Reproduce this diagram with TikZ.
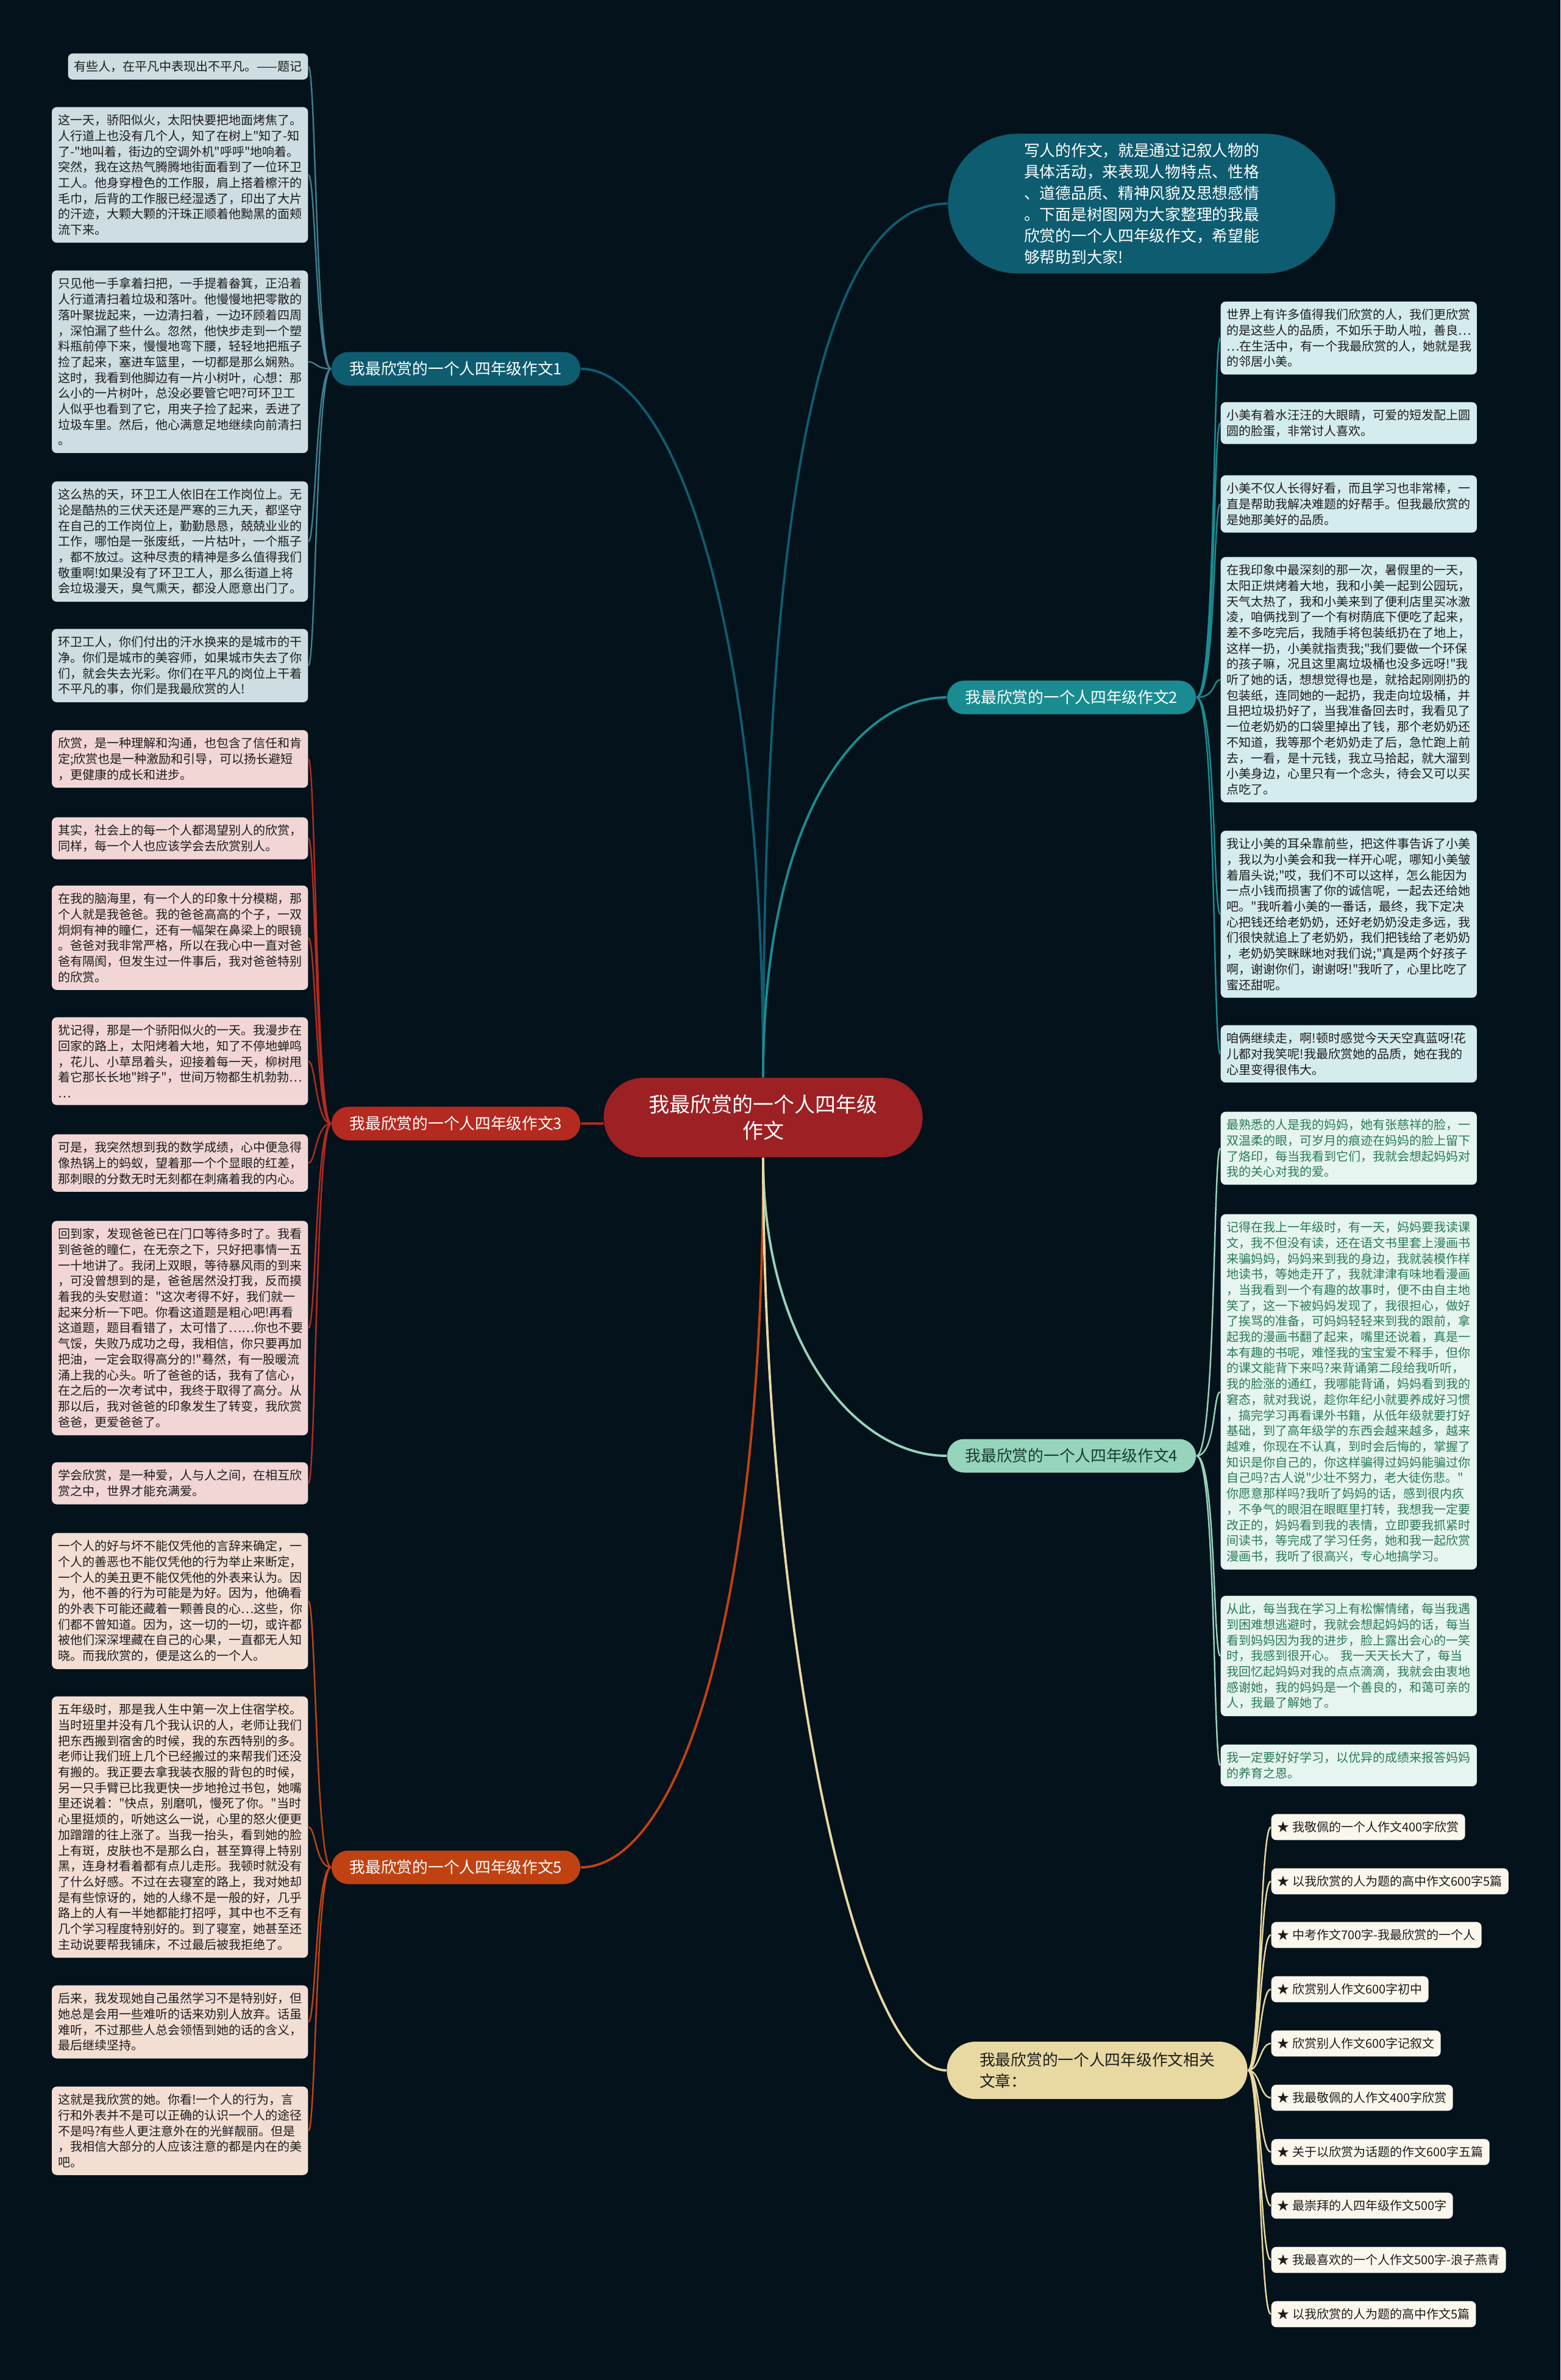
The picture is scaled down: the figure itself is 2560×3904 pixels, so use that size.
\documentclass[tikz,border=0pt]{standalone}
\usepackage{fontspec}
\newfontfamily\cjkfont{Noto Sans CJK SC}
\usetikzlibrary{calc}
\definecolor{bgNavy}{RGB}{3,18,27}
\definecolor{tealDeep}{RGB}{14,92,112}
\definecolor{tealMid}{RGB}{26,140,145}
\definecolor{hubRed}{RGB}{156,32,36}
\definecolor{redOne}{RGB}{180,42,32}
\definecolor{mintOne}{RGB}{150,212,188}
\definecolor{orangeOne}{RGB}{192,66,18}
\definecolor{creamOne}{RGB}{232,216,162}
\definecolor{fillOne}{RGB}{205,221,226}
\definecolor{fillTwo}{RGB}{212,236,238}
\definecolor{fillThree}{RGB}{242,214,214}
\definecolor{fillFour}{RGB}{230,245,239}
\definecolor{fillFive}{RGB}{243,222,212}
\definecolor{fillSix}{RGB}{251,247,236}
\definecolor{inkDark}{RGB}{28,28,28}
\definecolor{inkGreen}{RGB}{40,122,88}
\definecolor{inkMint}{RGB}{24,60,50}
\tikzset{
  hub/.style={fill=hubRed, text=white, align=center,
              font=\cjkfont\fontsize{9.67pt}{12.2pt}\selectfont,
              minimum width=5.23cm, minimum height=1.30cm, rounded corners=0.65cm},
  intro/.style={fill=tealDeep, text=white, align=left,
                font=\cjkfont\fontsize{7.31pt}{9.96pt}\selectfont,
                minimum width=6.35cm, minimum height=2.29cm, rounded corners=1.14cm},
  branch/.style={font=\cjkfont\fontsize{7.31pt}{9.96pt}\selectfont, text=white, inner sep=0pt,
                 minimum width=4.08cm, minimum height=0.55cm, rounded corners=0.275cm},
  related/.style={font=\cjkfont\fontsize{7.31pt}{9.96pt}\selectfont, fill=creamOne, text=inkDark,
                  align=left, inner sep=0pt,
                  minimum width=4.93cm, minimum height=0.94cm, rounded corners=0.47cm},
  leaf/.style={font=\cjkfont\fontsize{5.69pt}{7.31pt}\selectfont, align=left, text=inkDark,
               rounded corners=0.08cm, inner xsep=0.1cm, inner ysep=0.12cm},
  leafL/.style={leaf, text width=4.0cm, anchor=north east},
  leafR/.style={leaf, text width=4.0cm, anchor=north west},
  item/.style={leaf, fill=fillSix, anchor=west},
  spoke/.style={line width=1.1pt},
  wire/.style={line width=0.7pt},
  tieL/.style={to path={.. controls ([xshift=-0.25cm]\tikztostart)
                        and ([xshift=0.12cm]\tikztotarget) .. (\tikztotarget)}},
  tieR/.style={to path={.. controls ([xshift=0.32cm]\tikztostart)
                        and ([xshift=-0.12cm]\tikztotarget) .. (\tikztotarget)}},
  tieRel/.style={to path={.. controls ([xshift=0.2cm]\tikztostart)
                          and ([xshift=-0.18cm]\tikztotarget) .. (\tikztotarget)}},
}
\begin{document}
\begin{tikzpicture}[x=0.01cm, y=-0.01cm]
  % canvas
  \useasboundingbox (0,0) rectangle (2560,3904);
  \fill[bgNavy] (0,0) rectangle (2560,3904);

  % centre and intro
  \node[hub] (hub) at (1252,1833) {我最欣赏的一个人四年级\\作文};
  \node[intro] (intro) at (1873,334) {写人的作文，就是通过记叙人物的\\具体活动，来表现人物特点、性格\\、道德品质、精神风貌及思想感情\\。下面是树图网为大家整理的我最\\欣赏的一个人四年级作文，希望能\\够帮助到大家!};

  % branches
  \node[branch, fill=tealDeep] (b1) at (748,605) {我最欣赏的一个人四年级作文1};
  \node[branch, fill=tealMid] (b2) at (1758,1144) {我最欣赏的一个人四年级作文2};
  \node[branch, fill=redOne] (b3) at (748,1843) {我最欣赏的一个人四年级作文3};
  \node[branch, fill=mintOne, text=inkMint] (b4) at (1758,2388) {我最欣赏的一个人四年级作文4};
  \node[branch, fill=orangeOne] (b5) at (748,3063) {我最欣赏的一个人四年级作文5};
  \node[related] (b6) at (1800,3396) {我最欣赏的一个人四年级作文相关\\文章：};

  % essay 1
  \node[leaf, anchor=north east, fill=fillOne] (l1a) at (506,87) {有些人，在平凡中表现出不平凡。——题记};
  \node[leafL, fill=fillOne] (l1b) at (506,175) {这一天，骄阳似火，太阳快要把地面烤焦了。\\人行道上也没有几个人，知了在树上"知了-知\\了-"地叫着，街边的空调外机"呼呼"地响着。\\突然，我在这热气腾腾地街面看到了一位环卫\\工人。他身穿橙色的工作服，肩上搭着檫汗的\\毛巾，后背的工作服已经湿透了，印出了大片\\的汗迹，大颗大颗的汗珠正顺着他黝黑的面颊\\流下来。};
  \node[leafL, fill=fillOne] (l1c) at (506,443) {只见他一手拿着扫把，一手提着畚箕，正沿着\\人行道清扫着垃圾和落叶。他慢慢地把零散的\\落叶聚拢起来，一边清扫着，一边环顾着四周\\，深怕漏了些什么。忽然，他快步走到一个塑\\料瓶前停下来，慢慢地弯下腰，轻轻地把瓶子\\捡了起来，塞进车篮里，一切都是那么娴熟。\\这时，我看到他脚边有一片小树叶，心想：那\\么小的一片树叶，总没必要管它吧?可环卫工\\人似乎也看到了它，用夹子捡了起来，丢进了\\垃圾车里。然后，他心满意足地继续向前清扫\\。};
  \node[leafL, fill=fillOne] (l1d) at (506,789) {这么热的天，环卫工人依旧在工作岗位上。无\\论是酷热的三伏天还是严寒的三九天，都坚守\\在自己的工作岗位上，勤勤恳恳，兢兢业业的\\工作，哪怕是一张废纸，一片枯叶，一个瓶子\\，都不放过。这种尽责的精神是多么值得我们\\敬重啊!如果没有了环卫工人，那么街道上将\\会垃圾漫天，臭气熏天，都没人愿意出门了。};
  \node[leafL, fill=fillOne] (l1e) at (506,1031) {环卫工人，你们付出的汗水换来的是城市的干\\净。你们是城市的美容师，如果城市失去了你\\们，就会失去光彩。你们在平凡的岗位上干着\\不平凡的事，你们是我最欣赏的人!};

  % essay 3
  \node[leafL, fill=fillThree] (l3a) at (506,1197) {欣赏，是一种理解和沟通，也包含了信任和肯\\定;欣赏也是一种激励和引导，可以扬长避短\\，更健康的成长和进步。};
  \node[leafL, fill=fillThree] (l3b) at (506,1340) {其实，社会上的每一个人都渴望别人的欣赏，\\同样，每一个人也应该学会去欣赏别人。};
  \node[leafL, fill=fillThree] (l3c) at (506,1452) {在我的脑海里，有一个人的印象十分模糊，那\\个人就是我爸爸。我的爸爸高高的个子，一双\\炯炯有神的瞳仁，还有一幅架在鼻梁上的眼镜\\。爸爸对我非常严格，所以在我心中一直对爸\\爸有隔阂，但发生过一件事后，我对爸爸特别\\的欣赏。};
  \node[leafL, fill=fillThree] (l3d) at (506,1668) {犹记得，那是一个骄阳似火的一天。我漫步在\\回家的路上，太阳烤着大地，知了不停地蝉鸣\\，花儿、小草昂着头，迎接着每一天，柳树甩\\着它那长长地"辫子"，世间万物都生机勃勃…\\…};
  \node[leafL, fill=fillThree] (l3e) at (506,1860) {可是，我突然想到我的数学成绩，心中便急得\\像热锅上的蚂蚁，望着那一个个显眼的红差，\\那刺眼的分数无时无刻都在刺痛着我的内心。};
  \node[leafL, fill=fillThree] (l3f) at (506,2002) {回到家，发现爸爸已在门口等待多时了。我看\\到爸爸的瞳仁，在无奈之下，只好把事情一五\\一十地讲了。我闭上双眼，等待暴风雨的到来\\，可没曾想到的是，爸爸居然没打我，反而摸\\着我的头安慰道："这次考得不好，我们就一\\起来分析一下吧。你看这道题是粗心吧!再看\\这道题，题目看错了，太可惜了……你也不要\\气馁，失败乃成功之母，我相信，你只要再加\\把油，一定会取得高分的!"蓦然，有一股暖流\\涌上我的心头。听了爸爸的话，我有了信心，\\在之后的一次考试中，我终于取得了高分。从\\那以后，我对爸爸的印象发生了转变，我欣赏\\爸爸，更爱爸爸了。};
  \node[leafL, fill=fillThree] (l3g) at (506,2398) {学会欣赏，是一种爱，人与人之间，在相互欣\\赏之中，世界才能充满爱。};

  % essay 5
  \node[leafL, fill=fillFive] (l5a) at (506,2514) {一个人的好与坏不能仅凭他的言辞来确定，一\\个人的善恶也不能仅凭他的行为举止来断定，\\一个人的美丑更不能仅凭他的外表来认为。因\\为，他不善的行为可能是为好。因为，他确看\\的外表下可能还藏着一颗善良的心…这些，你\\们都不曾知道。因为，这一切的一切，或许都\\被他们深深埋藏在自己的心果，一直都无人知\\晓。而我欣赏的，便是这么的一个人。};
  \node[leafL, fill=fillFive] (l5b) at (506,2782) {五年级时，那是我人生中第一次上住宿学校。\\当时班里并没有几个我认识的人，老师让我们\\把东西搬到宿舍的时候，我的东西特别的多。\\老师让我们班上几个已经搬过的来帮我们还没\\有搬的。我正要去拿我装衣服的背包的时候，\\另一只手臂已比我更快一步地抢过书包，她嘴\\里还说着："快点，别磨叽，慢死了你。"当时\\心里挺烦的，听她这么一说，心里的怒火便更\\加蹭蹭的往上涨了。当我一抬头，看到她的脸\\上有斑，皮肤也不是那么白，甚至算得上特别\\黑，连身材看着都有点儿走形。我顿时就没有\\了什么好感。不过在去寝室的路上，我对她却\\是有些惊讶的，她的人缘不是一般的好，几乎\\路上的人有一半她都能打招呼，其中也不乏有\\几个学习程度特别好的。到了寝室，她甚至还\\主动说要帮我铺床，不过最后被我拒绝了。};
  \node[leafL, fill=fillFive] (l5c) at (506,3256) {后来，我发现她自己虽然学习不是特别好，但\\她总是会用一些难听的话来劝别人放弃。话虽\\难听，不过那些人总会领悟到她的话的含义，\\最后继续坚持。};
  \node[leafL, fill=fillFive] (l5d) at (506,3422) {这就是我欣赏的她。你看!一个人的行为，言\\行和外表并不是可以正确的认识一个人的途径\\不是吗?有些人更注意外在的光鲜靓丽。但是\\，我相信大部分的人应该注意的都是内在的美\\吧。};

  % essay 2
  \node[leafR, fill=fillTwo] (r2a) at (2002,494) {世界上有许多值得我们欣赏的人，我们更欣赏\\的是这些人的品质，不如乐于助人啦，善良…\\…在生活中，有一个我最欣赏的人，她就是我\\的邻居小美。};
  \node[leafR, fill=fillTwo] (r2b) at (2002,659) {小美有着水汪汪的大眼睛，可爱的短发配上圆\\圆的脸蛋，非常讨人喜欢。};
  \node[leafR, fill=fillTwo] (r2c) at (2002,779) {小美不仅人长得好看，而且学习也非常棒，一\\直是帮助我解决难题的好帮手。但我最欣赏的\\是她那美好的品质。};
  \node[leafR, fill=fillTwo] (r2d) at (2002,913) {在我印象中最深刻的那一次，暑假里的一天，\\太阳正烘烤着大地，我和小美一起到公园玩，\\天气太热了，我和小美来到了便利店里买冰激\\凌，咱俩找到了一个有树荫底下便吃了起来，\\差不多吃完后，我随手将包装纸扔在了地上，\\这样一扔，小美就指责我;"我们要做一个环保\\的孩子嘛，况且这里离垃圾桶也没多远呀!"我\\听了她的话，想想觉得也是，就拾起刚刚扔的\\包装纸，连同她的一起扔，我走向垃圾桶，并\\且把垃圾扔好了，当我准备回去时，我看见了\\一位老奶奶的口袋里掉出了钱，那个老奶奶还\\不知道，我等那个老奶奶走了后，急忙跑上前\\去，一看，是十元钱，我立马拾起，就大溜到\\小美身边，心里只有一个念头，待会又可以买\\点吃了。};
  \node[leafR, fill=fillTwo] (r2e) at (2002,1362) {我让小美的耳朵靠前些，把这件事告诉了小美\\，我以为小美会和我一样开心呢，哪知小美皱\\着眉头说;"哎，我们不可以这样，怎么能因为\\一点小钱而损害了你的诚信呢，一起去还给她\\吧。"我听着小美的一番话，最终，我下定决\\心把钱还给老奶奶，还好老奶奶没走多远，我\\们很快就追上了老奶奶，我们把钱给了老奶奶\\，老奶奶笑眯眯地对我们说;"真是两个好孩子\\啊，谢谢你们，谢谢呀!"我听了，心里比吃了\\蜜还甜呢。};
  \node[leafR, fill=fillTwo] (r2f) at (2002,1681) {咱俩继续走，啊!顿时感觉今天天空真蓝呀!花\\儿都对我笑呢!我最欣赏她的品质，她在我的\\心里变得很伟大。};

  % essay 4
  \node[leafR, fill=fillFour, text=inkGreen] (r4a) at (2002,1823) {最熟悉的人是我的妈妈，她有张慈祥的脸，一\\双温柔的眼，可岁月的痕迹在妈妈的脸上留下\\了烙印，每当我看到它们，我就会想起妈妈对\\我的关心对我的爱。};
  \node[leafR, fill=fillFour, text=inkGreen] (r4b) at (2002,1991) {记得在我上一年级时，有一天，妈妈要我读课\\文，我不但没有读，还在语文书里套上漫画书\\来骗妈妈，妈妈来到我的身边，我就装模作样\\地读书，等她走开了，我就津津有味地看漫画\\，当我看到一个有趣的故事时，便不由自主地\\笑了，这一下被妈妈发现了，我很担心，做好\\了挨骂的准备，可妈妈轻轻来到我的跟前，拿\\起我的漫画书翻了起来，嘴里还说着，真是一\\本有趣的书呢，难怪我的宝宝爱不释手，但你\\的课文能背下来吗?来背诵第二段给我听听，\\我的脸涨的通红，我哪能背诵，妈妈看到我的\\窘态，就对我说，趁你年纪小就要养成好习惯\\，搞完学习再看课外书籍，从低年级就要打好\\基础，到了高年级学的东西会越来越多，越来\\越难，你现在不认真，到时会后悔的，掌握了\\知识是你自己的，你这样骗得过妈妈能骗过你\\自己吗?古人说"少壮不努力，老大徒伤悲。"\\你愿意那样吗?我听了妈妈的话，感到很内疚\\，不争气的眼泪在眼眶里打转，我想我一定要\\改正的，妈妈看到我的表情，立即要我抓紧时\\间读书，等完成了学习任务，她和我一起欣赏\\漫画书，我听了很高兴，专心地搞学习。};
  \node[leafR, fill=fillFour, text=inkGreen] (r4c) at (2002,2617) {从此，每当我在学习上有松懈情绪，每当我遇\\到困难想逃避时，我就会想起妈妈的话，每当\\看到妈妈因为我的进步，脸上露出会心的一笑\\时，我感到很开心。 我一天天长大了，每当\\我回忆起妈妈对我的点点滴滴，我就会由衷地\\感谢她，我的妈妈是一个善良的，和蔼可亲的\\人，我最了解她了。};
  \node[leafR, fill=fillFour, text=inkGreen] (r4d) at (2002,2861) {我一定要好好学习，以优异的成绩来报答妈妈\\的养育之恩。};

  % related articles
  \node[item] (r6a) at (2085,2997) {★ 我敬佩的一个人作文400字欣赏};
  \node[item] (r6b) at (2085,3086) {★ 以我欣赏的人为题的高中作文600字5篇};
  \node[item] (r6c) at (2085,3174) {★ 中考作文700字-我最欣赏的一个人};
  \node[item] (r6d) at (2085,3263) {★ 欣赏别人作文600字初中};
  \node[item] (r6e) at (2085,3352) {★ 欣赏别人作文600字记叙文};
  \node[item] (r6f) at (2085,3441) {★ 我最敬佩的人作文400字欣赏};
  \node[item] (r6g) at (2085,3530) {★ 关于以欣赏为话题的作文600字五篇};
  \node[item] (r6h) at (2085,3618) {★ 最崇拜的人四年级作文500字};
  \node[item] (r6i) at (2085,3707) {★ 我最喜欢的一个人作文500字-浪子燕青};
  \node[item] (r6j) at (2085,3796) {★ 以我欣赏的人为题的高中作文5篇};

  % spokes from the centre
  \draw[spoke, tealDeep] (hub.north) .. controls (1252,900) and (1330,334) .. (intro.west);
  \draw[spoke, tealDeep] (hub.north) .. controls (1252,1000) and (1100,605) .. (b1.east);
  \draw[spoke, tealMid] (hub.north) .. controls (1252,1350) and (1400,1144) .. (b2.west);
  \draw[spoke, redOne] (b3.east) -- (b3.east -| hub.west);
  \draw[spoke, mintOne] (hub.south) .. controls (1252,2200) and (1400,2388) .. (b4.west);
  \draw[spoke, orangeOne] (hub.south) .. controls (1252,2700) and (1100,3063) .. (b5.east);
  \draw[spoke, creamOne] (hub.south) .. controls (1252,2650) and (1400,3396) .. (b6.west);

  % wires to the leaves
  \draw[wire, tealDeep!80!white, tieL] (b1.west) to (l1a.east) (b1.west) to (l1b.east)
    (b1.west) to (l1c.east) (b1.west) to (l1d.east) (b1.west) to (l1e.east);
  \draw[wire, redOne, tieL] (b3.west) to (l3a.east) (b3.west) to (l3b.east)
    (b3.west) to (l3c.east) (b3.west) to (l3d.east) (b3.west) to (l3e.east)
    (b3.west) to (l3f.east) (b3.west) to (l3g.east);
  \draw[wire, orangeOne, tieL] (b5.west) to (l5a.east) (b5.west) to (l5b.east)
    (b5.west) to (l5c.east) (b5.west) to (l5d.east);
  \draw[wire, tealMid, tieR] (b2.east) to (r2a.west) (b2.east) to (r2b.west)
    (b2.east) to (r2c.west) (b2.east) to (r2d.west) (b2.east) to (r2e.west)
    (b2.east) to (r2f.west);
  \draw[wire, mintOne, tieR] (b4.east) to (r4a.west) (b4.east) to (r4b.west)
    (b4.east) to (r4c.west) (b4.east) to (r4d.west);
  \draw[wire, creamOne, tieRel] (b6.east) to (r6a.west) (b6.east) to (r6b.west)
    (b6.east) to (r6c.west) (b6.east) to (r6d.west) (b6.east) to (r6e.west)
    (b6.east) to (r6f.west) (b6.east) to (r6g.west) (b6.east) to (r6h.west)
    (b6.east) to (r6i.west) (b6.east) to (r6j.west);
\end{tikzpicture}
\end{document}
